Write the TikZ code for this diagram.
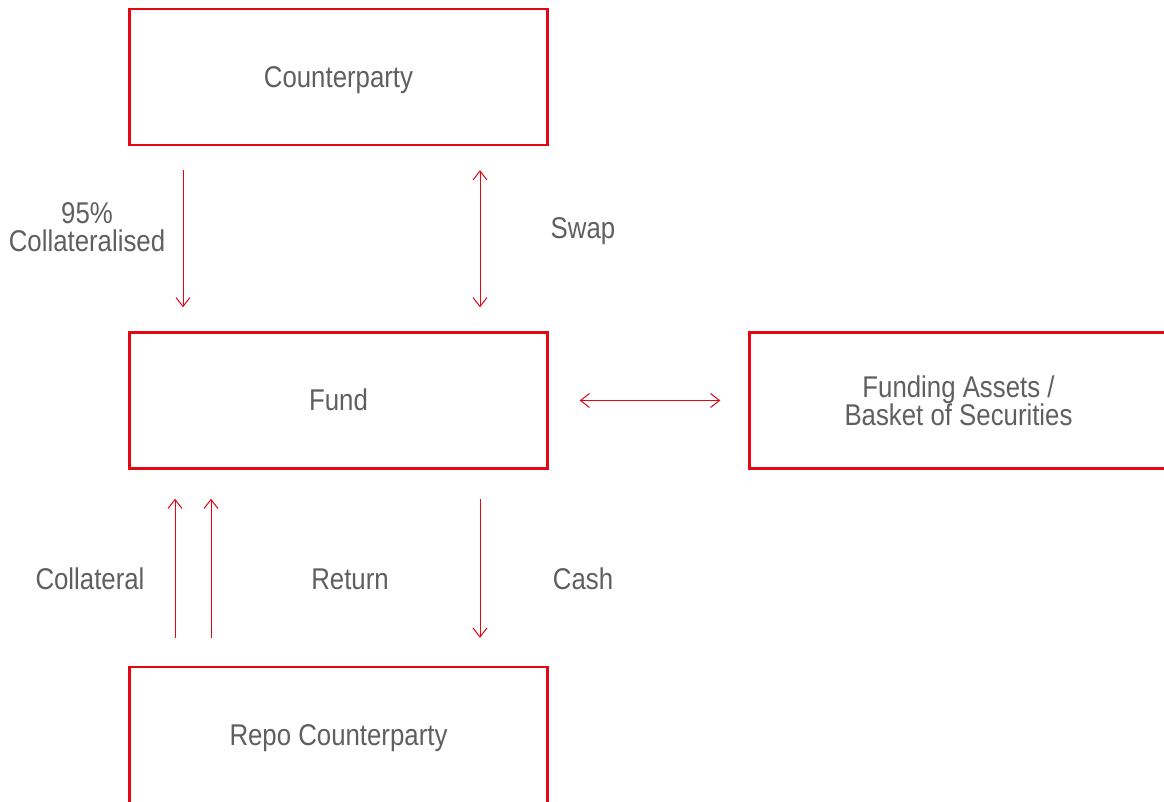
\documentclass[tikz,border=0pt]{standalone}
\usepackage{fontspec}
\setmainfont{Liberation Sans}[FakeStretch=0.86]
\usetikzlibrary{arrows.meta}
\definecolor{boxred}{HTML}{E30613}
\definecolor{labelgray}{HTML}{5F5F5F}
\tikzstyle{party}=[draw=boxred,line width=1.2pt,minimum width=209pt,minimum height=68pt,inner sep=0pt,text=labelgray,align=center]
\tikzstyle{oneline}=[text height=10.5pt,text depth=0pt]
\tikzstyle{flowlabel}=[text=labelgray,align=center,inner sep=0pt,anchor=base]
\tikzstyle{flow}=[draw=boxred,line width=0.5pt,-{Straight Barb[length=4.5pt,width=7pt]}]
\tikzstyle{twoway}=[flow,{Straight Barb[length=4.5pt,width=7pt]}-{Straight Barb[length=4.5pt,width=7pt]}]
\newcommand{\flowfont}{\fontsize{15pt}{14pt}\selectfont}

\begin{document}
\begin{tikzpicture}[x=0.5pt,y=-0.5pt,font=\flowfont]
    \useasboundingbox (0,0) rectangle (1164,802);
    \node[party,oneline] (cp)   at (338.5,77)    {Counterparty};
    \node[party,oneline] (fund) at (338.5,400.5) {Fund};
    \node[party] (fa)   at (958.5,400.5) {Funding Assets /\\Basket of Securities};
    \node[party,oneline] (repo) at (338.5,735)   {Repo Counterparty};
%   columns of the arrows
    \coordinate (xcol) at (183,0);
    \coordinate (xswp) at (480,0);
    \coordinate (xca)  at (175,0);
    \coordinate (xcb)  at (211,0);
	 \draw[flow,shorten <=12pt,shorten >=12pt] (cp.south -| xcol) -- (fund.north -| xcol);
	 \draw[twoway,shorten <=12pt,shorten >=12pt] (cp.south -| xswp) -- (fund.north -| xswp);
	 \draw[twoway,shorten <=15.5pt,shorten >=14pt] (fund.east) -- (fa.west);
	 \draw[flow,shorten <=14.5pt,shorten >=14pt] (fund.south -| xswp) -- (repo.north -| xswp);
	 \draw[flow,shorten <=14pt,shorten >=14.5pt] (repo.north -| xca) -- (fund.south -| xca);
	 \draw[flow,shorten <=14pt,shorten >=14.5pt] (repo.north -| xcb) -- (fund.south -| xcb);
    \node[flowlabel] (l95)   at (87,252)  {95\%\\Collateralised};
    \node[flowlabel] (lswp)  at (583,239) {Swap};
    \node[flowlabel] (lcol)  at (90,589)  {Collateral};
    \node[flowlabel] (lret)  at (350,589) {Return};
    \node[flowlabel] (lcash) at (583,589) {Cash};
\end{tikzpicture}
\end{document}
